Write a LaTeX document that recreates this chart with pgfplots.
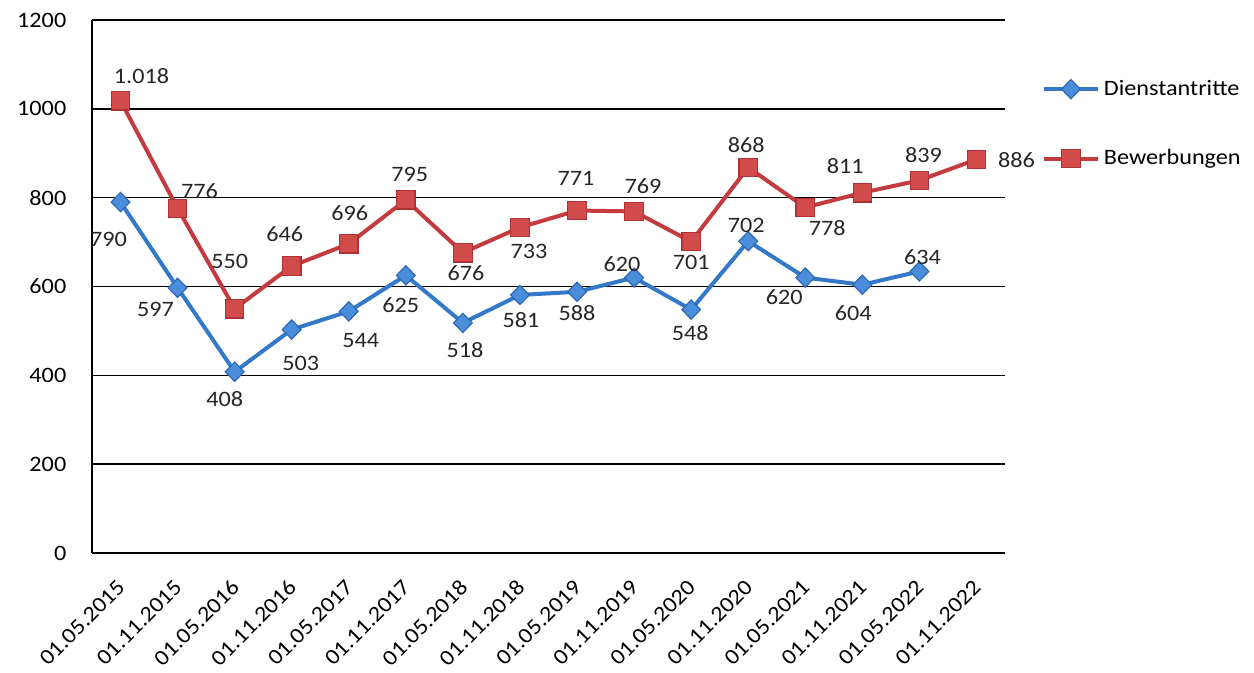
\documentclass[border=0pt]{standalone}
\usepackage{fontspec}
\setmainfont{Carlito}[FakeStretch=1.1]
\usepackage{pgfplots}
\usepackage{pgfplotstable}
\pgfplotsset{compat=1.18}
\definecolor{bline}{HTML}{3478C8}
\definecolor{bfill}{HTML}{4A8EDB}
\definecolor{bdraw}{HTML}{2F68B0}
\definecolor{rline}{HTML}{C33B3E}
\definecolor{rfill}{HTML}{D24B4B}
\definecolor{rdraw}{HTML}{B03033}
\pgfplotstableread{
x y lab dx dy
0 790 790 -6 -18.5
1 597 597 -11 -11
2 408 408 -5 -13.5
3 503 503 4.5 -17
4 544 544 6 -14.5
5 625 625 -2.5 -15
6 518 518 1 -13.5
7 581 581 0.5 -12.5
8 588 588 0 -10.5
9 620 620 -6 6.5
10 548 548 -0.5 -11.5
11 702 702 -1 8
12 620 620 -10.5 -10
13 604 604 -4.5 -14
14 634 634 1.5 7
}\dienst
\pgfplotstableread{
x y lab dx dy
0 1018 1.018 10.5 12.5
1 776 776 11 8.5
2 550 550 -2.5 23.5
3 646 646 -3.5 16
4 696 696 0.5 15.5
5 795 795 2 12.5
6 676 676 1.5 -10
7 733 733 4.5 -12
8 771 771 -0.5 16
9 769 769 4.5 12.5
10 701 701 0 -10.5
11 868 868 -1 11
12 778 778 11 -10.5
13 811 811 -8.5 13.5
14 839 839 2 12.5
15 886 886 20 -0.5
}\bewerb
\pgfplotsset{
  mylabels/.style={
    nodes near coords,
    point meta=explicit symbolic,
    visualization depends on={\thisrow{dx}\as\ldx},
    visualization depends on={\thisrow{dy}\as\ldy},
    every node near coord/.append style={anchor=center, xshift=\ldx pt, yshift=\ldy pt, text=black!85},
  }
}
\begin{document}
\fontsize{11}{13}\selectfont
\begin{tikzpicture}
\begin{axis}[
  scale only axis,
  width=456.5pt, height=266.5pt,
  xmin=-0.5, xmax=15.5,
  ymin=0, ymax=1200,
  ytick={0,200,...,1200},
  xtick={0,...,15},
  xticklabels={01.05.2015,01.11.2015,01.05.2016,01.11.2016,01.05.2017,01.11.2017,01.05.2018,01.11.2018,01.05.2019,01.11.2019,01.05.2020,01.11.2020,01.05.2021,01.11.2021,01.05.2022,01.11.2022},
  xticklabel style={xshift=-2.3pt, yshift=-12.5pt, rotate=45, anchor=north east, inner sep=0pt},
  yticklabel style={xshift=-9pt},
  /pgf/number format/assume math mode=true,
  /pgf/number format/1000 sep={},
  axis x line*=bottom, axis y line*=left,
  axis line style={black, line width=0.75pt, -},
  major tick length=0pt,
  ymajorgrids,
  major grid style={black, line width=0.75pt},
  clip=false,
  legend style={draw=none, fill=none, at={(1.04,0.805)}, anchor=west, row sep=21.5pt, inner sep=0pt},
  legend cell align=left,
  legend image code/.code={\draw[mark repeat=2,mark phase=2] plot coordinates {(0pt,0pt)(13.5pt,0pt)(27pt,0pt)};},
]
\addplot[color=bline, line width=2pt, mark=diamond*, mark size=4.8pt,
  mark options={xscale=1.3, fill=bfill, draw=bdraw, line width=0.6pt}, mylabels]
  table[x=x, y=y, meta=lab]{\dienst};
\addlegendentry{Dienstantritte}
\addplot[color=rline, line width=2pt, mark=square*, mark size=4.6pt,
  mark options={fill=rfill, draw=rdraw, line width=0.6pt}, mylabels]
  table[x=x, y=y, meta=lab]{\bewerb};
\addlegendentry{Bewerbungen}
\coordinate (bl) at (rel axis cs:0,0);
\coordinate (tr) at (rel axis cs:1,1);
\end{axis}
\pgfresetboundingbox
\path ([shift={(-46pt,-60pt)}]bl) rectangle ([shift={(124.5pt,10pt)}]tr);
\end{tikzpicture}
\end{document}
